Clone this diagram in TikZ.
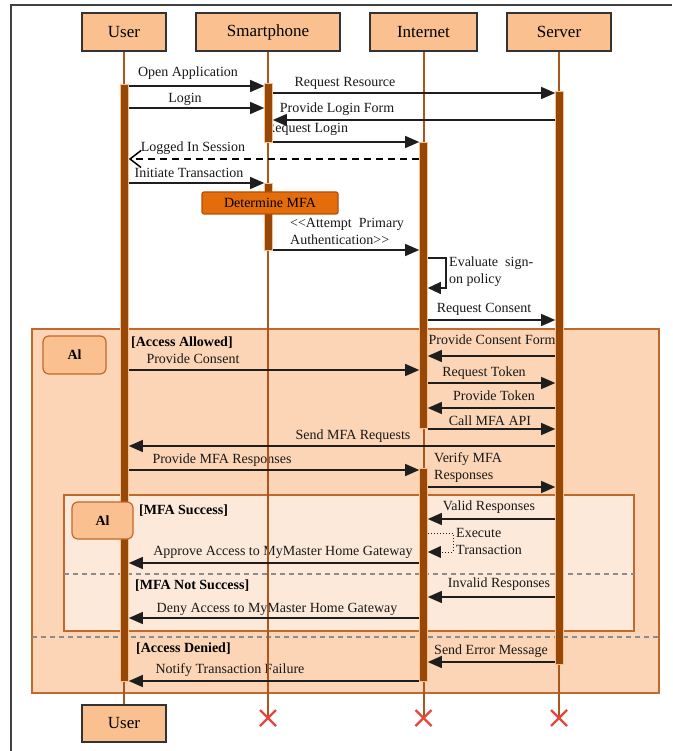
\documentclass[tikz,border=0pt]{standalone}
\usepackage{fontspec}
\setmainfont{Liberation Serif}
\usetikzlibrary{arrows.meta}
\definecolor{hdrfill}{RGB}{250,192,144}
\definecolor{lifecol}{RGB}{172,86,28}
\definecolor{barcol}{RGB}{151,72,6}
\definecolor{fragout}{RGB}{251,213,181}
\definecolor{fragin}{RGB}{253,233,217}
\definecolor{fragbd}{RGB}{192,105,45}
\definecolor{mfafill}{RGB}{228,108,10}
\definecolor{mfabd}{RGB}{180,80,10}
\definecolor{xred}{RGB}{230,70,60}
\definecolor{msgcol}{RGB}{30,30,30}
\definecolor{sepcol}{RGB}{140,140,140}
\tikzset{
  hdr/.style={draw=black!80, line width=1.2pt, fill=hdrfill, minimum width=84pt, minimum height=38pt, inner sep=0pt, font=\fontsize{17}{19}\selectfont},
  lifeline/.style={draw=lifecol, line width=2pt},
  actbar/.style={draw=hdrfill, line width=0.6pt, fill=barcol, minimum width=8pt, inner sep=0pt},
  msg/.style={draw=msgcol, line width=1.3pt, -{Triangle[length=14pt,width=12pt]}},
  retmsg/.style={draw=black, line width=2pt, dash pattern=on 7pt off 5pt, -{Straight Barb[length=11pt,width=17pt,line width=1.5pt]}},
  selfdot/.style={draw=msgcol, line width=1pt, dotted, -{Triangle[length=13pt,width=12pt,line width=0pt]}},
  lbl/.style={inner sep=0pt, font=\fontsize{14}{16}\selectfont, text=black!90},
  lbll/.style={lbl, anchor=west, align=left, font=\fontsize{14}{17}\selectfont},
  guard/.style={inner sep=0pt, anchor=west, font=\bfseries\fontsize{14}{16}\selectfont},
  albox/.style={draw=fragbd, line width=1.2pt, fill=hdrfill, rounded corners=6pt, inner sep=0pt, font=\bfseries\fontsize{14}{16}\selectfont},
  frag/.style={draw=fragbd, line width=1.2pt},
  sep/.style={draw=sepcol, line width=1.2pt, dash pattern=on 5pt off 4pt},
  xmark/.style={draw=xred, line width=2.2pt}
}
\begin{document}
\begin{tikzpicture}[x=1pt,y=-1pt]
\useasboundingbox (0,0) rectangle (672,751);
\fill[white] (0,0) rectangle (672,751);
% outer frame
\draw[black!75, line width=2pt] (11,751) -- (11,5) -- (672,5);
% combined fragments
\filldraw[frag, fill=fragout] (32,329) rectangle (659,693);
\filldraw[frag, fill=fragin] (64,495) rectangle (634,631);
\draw[sep] (64,574) -- (634,574);
\draw[sep] (32,637) -- (659,637);
% headers
\node[hdr] (hU) at (124,32) {User};
\node[hdr, minimum width=144pt] (hS) at (268,32) {Smartphone};
\node[hdr, minimum width=107pt] (hI) at (423.5,32) {Internet};
\node[hdr, minimum width=104pt] (hV) at (559,32) {Server};
\node[hdr, minimum height=37pt] (bU) at (124,723.5) {User};
% end coordinates of lifelines
\coordinate (eS) at (268,718);
\coordinate (eI) at (423.5,718);
\coordinate (eV) at (559,718);
% labels
\node[lbl] (t1) at (188,73) {Open Application};
\node[lbl] (t2) at (345,83) {Request Resource};
\node[lbl] (t3) at (185,99) {Login};
\node[lbl] (t4) at (337,109) {Provide Login Form};
\node[lbl] (t5) at (307,129) {Request Login};
\node[lbl] (t6) at (193,148) {Logged In Session};
\node[lbl] (t7) at (189,173) {Initiate Transaction};
\node[lbll] (t8) at (290,231) {\hbox{<}\hbox{<}Attempt\ \ Primary\\Authentication\hbox{>}\hbox{>}};
\node[lbll] (t9) at (449,271.5) {Evaluate\ \ sign-\\on policy};
\node[lbl] (t10) at (484,309) {Request Consent};
\node[lbl] (t11) at (492,340) {Provide Consent Form};
\node[lbl] (t12) at (193,359) {Provide Consent};
\node[lbl] (t13) at (484,373) {Request Token};
\node[lbl] (t14) at (494,396) {Provide Token};
\node[lbl] (t15) at (490,421) {Call MFA API};
\node[lbl] (t16) at (353,436) {Send MFA Requests};
\node[lbl] (t17) at (222,460) {Provide MFA Responses};
\node[lbll] (t18) at (434,467.5) {Verify MFA\\Responses};
\node[lbl] (t19) at (489,507) {Valid Responses};
\node[lbll] (t20) at (456,541.5) {Execute\\Transaction};
\node[lbl] (t21) at (283,552) {Approve Access to MyMaster Home Gateway};
\node[lbl] (t22) at (499,584) {Invalid Responses};
\node[lbl] (t23) at (277,609) {Deny Access to MyMaster Home Gateway};
\node[lbl] (t24) at (491,651) {Send Error Message};
\node[lbl] (t25) at (230,670) {Notify Transaction Failure};
% guards
\node[guard] (g1) at (131,343) {[Access Allowed]};
\node[guard] (g2) at (139,511) {[MFA Success]};
\node[guard] (g3) at (135,586) {[MFA Not Success]};
\node[guard] (g4) at (136,649) {[Access Denied]};
% lifelines
\draw[lifeline] (hU.south) -- (bU.north);
\draw[lifeline] (hS.south) -- (eS);
\draw[lifeline] (hI.south) -- (eI);
\draw[lifeline] (hV.south) -- (eV);
% activation bars
\node[actbar, minimum height=597pt] (ub) at (124.5,382.5) {};
\node[actbar, minimum height=59pt] (sb1) at (268.5,112.5) {};
\node[actbar, minimum height=67pt] (sb2) at (268.5,216.5) {};
\node[actbar, minimum height=286pt] (ib1) at (423.5,285) {};
\node[actbar, minimum height=213pt] (ib2) at (423.5,574.5) {};
\node[actbar, minimum height=573pt] (vb) at (559.5,377.5) {};
% Determine MFA box
\node[draw=mfabd, line width=1.2pt, fill=mfafill, rounded corners=2pt, minimum width=136pt, minimum height=22pt, inner sep=0pt, font=\fontsize{14}{16}\selectfont] (mfa) at (270,203) {Determine MFA};
% Al boxes
\node[albox, minimum width=63pt, minimum height=38pt] (al1) at (74.5,355) {Al};
\node[albox, minimum width=61pt, minimum height=37pt] (al2) at (102.5,520.5) {Al};
% messages
\draw[msg] (ub.east |- 0,86) -- (sb1.west |- 0,86);
\draw[msg] (sb1.east |- 0,93) -- (vb.west |- 0,93);
\draw[msg] (ub.east |- 0,108) -- (sb1.west |- 0,108);
\draw[msg] (vb.west |- 0,120) -- (sb1.east |- 0,120);
\draw[msg] (sb1.east |- 0,142) -- (ib1.west |- 0,142);
\draw[retmsg] (ib1.west |- 0,159) -- (ub.east |- 0,159);
\draw[msg] (ub.east |- 0,183) -- (sb2.west |- 0,183);
\draw[msg] (sb2.east |- 0,250) -- (ib1.west |- 0,250);
\coordinate (ev) at (446,288);
\draw[msg, -{Triangle[length=13pt,width=12pt]}] (ib1.east |- 0,258) -| (ev) -- (ib1.east |- ev);
\draw[msg] (ib1.east |- 0,320) -- (vb.west |- 0,320);
\draw[msg] (vb.west |- 0,356) -- (ib1.east |- 0,356);
\draw[msg] (ub.east |- 0,370) -- (ib1.west |- 0,370);
\draw[msg] (ib1.east |- 0,383) -- (vb.west |- 0,383);
\draw[msg] (vb.west |- 0,408) -- (ib1.east |- 0,408);
\draw[msg] (ib1.east |- 0,429) -- (vb.west |- 0,429);
\draw[msg] (vb.west |- 0,446) -- (ub.east |- 0,446);
\draw[msg] (ub.east |- 0,470) -- (ib2.west |- 0,470);
\draw[msg] (ib2.east |- 0,487) -- (vb.west |- 0,487);
\draw[msg] (vb.west |- 0,519) -- (ib2.east |- 0,519);
\coordinate (ex) at (453,552);
\draw[selfdot] (ib2.east |- 0,533) -| (ex) -- (ib2.east |- ex);
\draw[msg] (ib2.west |- 0,563) -- (ub.east |- 0,563);
\draw[msg] (vb.west |- 0,597) -- (ib2.east |- 0,597);
\draw[msg] (ib2.west |- 0,618) -- (ub.east |- 0,618);
\draw[msg] (vb.west |- 0,662) -- (ib2.east |- 0,662);
\draw[msg] (ib2.west |- 0,681) -- (ub.east |- 0,681);
% destruction marks
\foreach \c in {eS,eI,eV}{
  \draw[xmark] ([shift={(-8,-8)}]\c) -- ([shift={(8,8)}]\c);
  \draw[xmark] ([shift={(-8,8)}]\c) -- ([shift={(8,-8)}]\c);
}
\end{tikzpicture}
\end{document}
